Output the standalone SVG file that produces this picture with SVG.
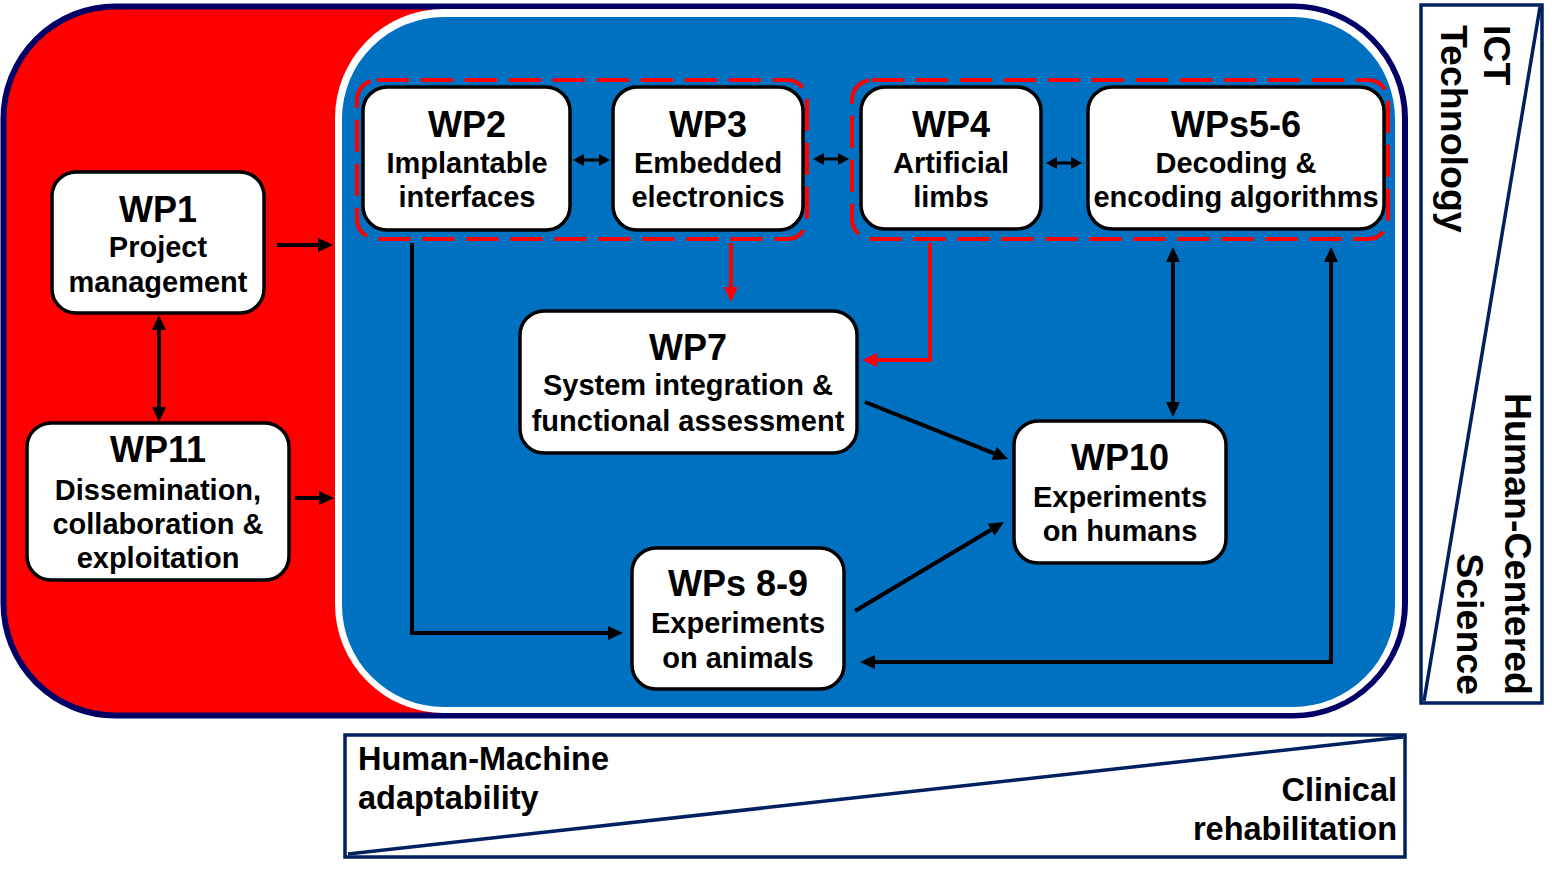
<svg xmlns="http://www.w3.org/2000/svg" width="1552" height="869" viewBox="0 0 1552 869">
<style>
text{font-family:"Liberation Sans",Arial,sans-serif;font-weight:bold;fill:#000}
.t{font-size:36px;text-anchor:middle}
.s{font-size:29px;text-anchor:middle}
.box{fill:#fff;stroke:#000;stroke-width:3.5}
.grp{fill:none;stroke:#f00;stroke-width:4;stroke-dasharray:32 12}
.c{fill:none;stroke:#000;stroke-width:4}
.r{fill:none;stroke:#f00;stroke-width:4}
.sm{stroke-width:3}
.pan{fill:#fff;stroke:#002060;stroke-width:3.5}
.lab{font-size:37.5px}
.lab2{font-size:32.5px}
</style>
<defs>
<marker id="ah" viewBox="0 0 15 14" refX="0" refY="7" markerWidth="15" markerHeight="14" markerUnits="userSpaceOnUse" orient="auto-start-reverse"><path d="M0,0 L15,7 L0,14 z" fill="#000"/></marker>
<marker id="ahr" viewBox="0 0 15 14" refX="0" refY="7" markerWidth="15" markerHeight="14" markerUnits="userSpaceOnUse" orient="auto-start-reverse"><path d="M0,0 L15,7 L0,14 z" fill="#f00"/></marker>
<marker id="ahs" viewBox="0 0 11 12" refX="0" refY="6" markerWidth="11" markerHeight="12" markerUnits="userSpaceOnUse" orient="auto-start-reverse"><path d="M0,0 L11,6 L0,12 z" fill="#000"/></marker>
</defs>
<rect width="1552" height="869" fill="#fff"/>
<g id="background">
<rect x="3.5" y="6.5" width="1401.5" height="709" rx="112" ry="112" fill="#f00" stroke="#000066" stroke-width="6"/>
<rect x="335" y="9" width="1067" height="704" rx="109" ry="109" fill="#fff"/>
<rect x="342" y="17" width="1053" height="690" rx="102" ry="102" fill="#0070C0"/>
</g>
<g id="panel-right">
<rect class="pan" x="1421" y="5" width="121" height="698"/>
<line x1="1540" y1="7" x2="1424" y2="701" stroke="#002060" stroke-width="3.5"/>
<text class="lab" transform="translate(1484,25) rotate(90)">ICT</text>
<text class="lab" transform="translate(1441,25) rotate(90)">Technology</text>
<text class="lab" transform="translate(1505,695) rotate(90)" text-anchor="end">Human-Centered</text>
<text class="lab" transform="translate(1457,695) rotate(90)" text-anchor="end">Science</text>
</g>
<g id="panel-bottom">
<rect class="pan" x="345" y="735" width="1060" height="122"/>
<line x1="348" y1="854" x2="1403" y2="737" stroke="#002060" stroke-width="3.5"/>
<text class="lab2" x="358" y="770">Human-Machine</text>
<text class="lab2" x="358" y="809">adaptability</text>
<text class="lab2" x="1397" y="801" text-anchor="end">Clinical</text>
<text class="lab2" x="1397" y="840" text-anchor="end">rehabilitation</text>
</g>
<g id="groups">
<rect class="grp" x="357" y="80" width="450" height="159" rx="20"/>
<rect class="grp" x="852" y="80" width="536" height="159" rx="20"/>
</g>
<g id="connectors">
<path class="c" d="M277,245 H318" marker-end="url(#ah)"/>
<path class="c" d="M295,498 H319" marker-end="url(#ah)"/>
<path class="c" d="M159,330 V407" marker-start="url(#ah)" marker-end="url(#ah)"/>
<path class="c sm" d="M584,160 H599" marker-start="url(#ahs)" marker-end="url(#ahs)"/>
<path class="c sm" d="M824,159 H838" marker-start="url(#ahs)" marker-end="url(#ahs)"/>
<path class="c sm" d="M1057,163 H1071" marker-start="url(#ahs)" marker-end="url(#ahs)"/>
<path class="r" d="M731,243 V287" marker-end="url(#ahr)"/>
<path class="r" d="M930,243 V360 H877" marker-end="url(#ahr)"/>
<path class="c" d="M412,243 V633 H608" marker-end="url(#ah)"/>
<path class="c" d="M865,402 L994.1,453.4" marker-end="url(#ah)"/>
<path class="c" d="M855,611 L991.1,529.7" marker-end="url(#ah)"/>
<path class="c" d="M1173,402 V262" marker-start="url(#ah)" marker-end="url(#ah)"/>
<path class="c" d="M875,662 H1331 V262" marker-start="url(#ah)" marker-end="url(#ah)"/>
</g>
<g id="WP1">
<rect class="box" x="52" y="172" width="212" height="141" rx="24"/>
<text class="t" x="158" y="222">WP1</text>
<text class="s" x="158" y="257">Project</text>
<text class="s" x="158" y="292">management</text>
</g>
<g id="WP11">
<rect class="box" x="27" y="423" width="262" height="157" rx="24"/>
<text class="t" x="158" y="462">WP11</text>
<text class="s" x="158" y="500">Dissemination,</text>
<text class="s" x="158" y="534">collaboration &amp;</text>
<text class="s" x="158" y="568">exploitation</text>
</g>
<g id="WP2">
<rect class="box" x="363" y="87" width="207" height="143" rx="24"/>
<text class="t" x="467" y="137">WP2</text>
<text class="s" x="467" y="173">Implantable</text>
<text class="s" x="467" y="207">interfaces</text>
</g>
<g id="WP3">
<rect class="box" x="613" y="87" width="190" height="143" rx="24"/>
<text class="t" x="708" y="137">WP3</text>
<text class="s" x="708" y="173">Embedded</text>
<text class="s" x="708" y="207">electronics</text>
</g>
<g id="WP4">
<rect class="box" x="861" y="87" width="180" height="142" rx="24"/>
<text class="t" x="951" y="137">WP4</text>
<text class="s" x="951" y="173">Artificial</text>
<text class="s" x="951" y="207">limbs</text>
</g>
<g id="WPs5-6">
<rect class="box" x="1088" y="87" width="296" height="142" rx="24"/>
<text class="t" x="1236" y="137">WPs5-6</text>
<text class="s" x="1236" y="173">Decoding &amp;</text>
<text class="s" x="1236" y="207">encoding algorithms</text>
</g>
<g id="WP7">
<rect class="box" x="520" y="311" width="337" height="142" rx="24"/>
<text class="t" x="688" y="360">WP7</text>
<text class="s" x="688" y="395">System integration &amp;</text>
<text class="s" x="688" y="431">functional assessment</text>
</g>
<g id="WP10">
<rect class="box" x="1014" y="421" width="212" height="142" rx="24"/>
<text class="t" x="1120" y="470">WP10</text>
<text class="s" x="1120" y="507">Experiments</text>
<text class="s" x="1120" y="541">on humans</text>
</g>
<g id="WPs8-9">
<rect class="box" x="632" y="548" width="212" height="141" rx="24"/>
<text class="t" x="738" y="596">WPs 8-9</text>
<text class="s" x="738" y="633">Experiments</text>
<text class="s" x="738" y="668">on animals</text>
</g>
</svg>
